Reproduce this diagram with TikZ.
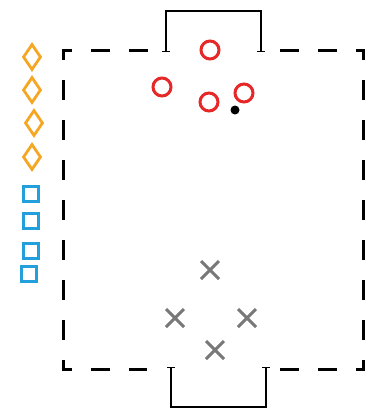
\documentclass[tikz,border=0pt]{standalone}
\usepackage{xcolor}
\usepackage{tikz}
\usetikzlibrary{arrows.meta,shapes.geometric,shapes.misc}

\definecolor{homered}{RGB}{230,40,40}
\definecolor{benchorange}{RGB}{245,166,35}
\definecolor{benchblue}{RGB}{35,160,220}
\definecolor{awaygray}{RGB}{120,120,120}

\begin{document}
\begin{tikzpicture}[x=1pt, y=-1pt,
        hline/.style={line width=3pt, dash pattern=on 19pt off 19pt},
        vline/.style={line width=3pt, dash pattern=on 20pt off 20pt, dash phase=10pt},
        goalframe/.style={line width=1.4pt, {Bar[width=8pt]}-{Bar[width=8pt]}},
        attacker/.style={circle, draw=homered, line width=3pt, minimum size=18pt, inner sep=0pt},
        defender/.style={cross out, draw=awaygray, line width=3pt, minimum size=15pt, inner sep=0pt},
        subdiamond/.style={diamond, draw=benchorange, line width=2.8pt, minimum width=18pt, minimum height=26pt, inner sep=0pt},
        subsquare/.style={rectangle, draw=benchblue, line width=3pt, minimum size=15pt, inner sep=0pt},
        ball/.style={circle, fill=black, minimum size=9pt, inner sep=0pt}
    ]
        \useasboundingbox (0,0) rectangle (376,410);

        % court boundary
        \draw[hline, dash phase=8.5pt] (61.5,50) -- (148,50);
        \draw[hline, dash phase=10.5pt] (364.5,50) -- (280,50);
        \draw[hline, dash phase=8.5pt] (61.5,369) -- (147,369);
        \draw[hline, dash phase=10.5pt] (364.5,369) -- (280,369);
        \draw[vline] (63,50) -- (63,369);
        \draw[vline] (363,50) -- (363,369);

        % goals
        \coordinate (topL) at (166,52);
        \coordinate (topR) at (261,52);
        \coordinate (botL) at (171,367);
        \coordinate (botR) at (266,367);
        \draw[goalframe] (topL) -- (166,11) -- (261,11) -- (topR);
        \draw[goalframe] (botL) -- (171,407) -- (266,407) -- (botR);

        % players on court
        \node[attacker] (a1) at (210,50) {};
        \node[attacker] (a2) at (162,87) {};
        \node[attacker] (a3) at (209,102) {};
        \node[attacker] (a4) at (244,93) {};
        \node[ball] (ball) at (235,110) {};

        \node[defender] (d1) at (210,270) {};
        \node[defender] (d2) at (175,318) {};
        \node[defender] (d3) at (247,318) {};
        \node[defender] (d4) at (215,350) {};

        % bench
        \node[subdiamond] (s1) at (32,57) {};
        \node[subdiamond] (s2) at (32,90) {};
        \node[subdiamond] (s3) at (34,123) {};
        \node[subdiamond] (s4) at (32,157) {};
        \node[subsquare] (q1) at (31,194) {};
        \node[subsquare] (q2) at (31,221) {};
        \node[subsquare] (q3) at (31,251) {};
        \node[subsquare] (q4) at (29,274) {};
    \end{tikzpicture}
\end{document}
